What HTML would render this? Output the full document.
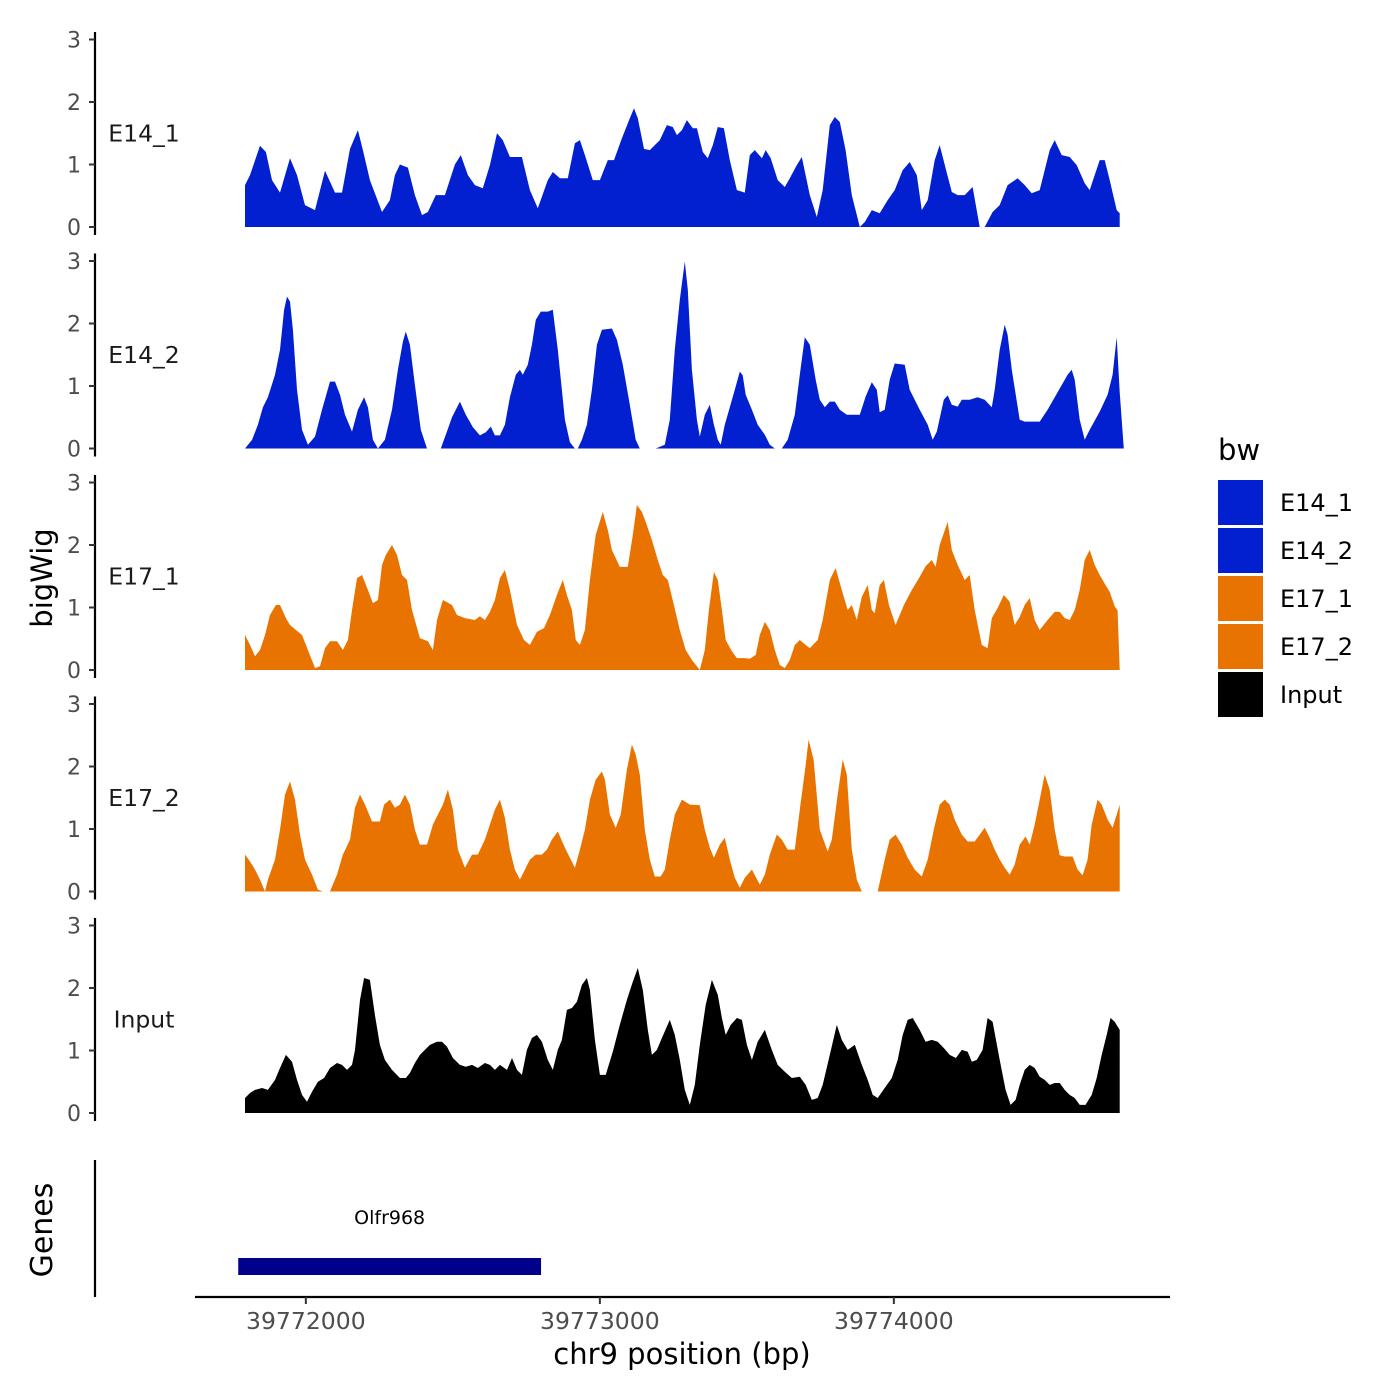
<!DOCTYPE html>
<html><head><meta charset="utf-8"><style>
html,body{margin:0;padding:0;background:#fff;}
svg{display:block;font-family:"DejaVu Sans","Liberation Sans",sans-serif;}
</style></head><body>
<svg id="chart" width="1400" height="1400" viewBox="0 0 1400 1400" xmlns="http://www.w3.org/2000/svg">
<rect x="0" y="0" width="1400" height="1400" fill="#fff"/>
<g id="tracks"></g>
<text x="0" y="0" transform="translate(52,578) rotate(-90)" text-anchor="middle" font-size="29" fill="#000">bigWig</text>
<line x1="95" y1="1160" x2="95" y2="1297" stroke="#000" stroke-width="2.2"/>
<text x="0" y="0" transform="translate(52,1230) rotate(-90)" text-anchor="middle" font-size="30" fill="#000">Genes</text>
<g id="genes"></g>
<line x1="195" y1="1297" x2="1170" y2="1297" stroke="#000" stroke-width="2.2"/>
<g id="xticks"></g>
<text x="682" y="1364" text-anchor="middle" font-size="29" fill="#000">chr9 position (bp)</text>
<g>
<text x="1218" y="460" font-size="29" fill="#000">bw</text>
<g id="legend-items"></g>
</g>
</svg>
<script>
const START = 39771793;
const trackNames = ["E14_1","E14_2","E17_1","E17_2","Input"];
const trackColors = ["#0220D0","#0220D0","#E87300","#E87300","#000000"];
const yTicks = [0,1,2,3];
const xTicks = [39772000,39773000,39774000];
const xTickLabels = ["39772000","39773000","39774000"];
const geneNames = ["Olfr968"];
const geneStarts = [39771770];
const geneEnds = [39772800];

const e14_1_pos = [0,17,51,71,92,119,153,177,204,238,272,306,330,357,384,401,425,466,493,510,527,554,578,602,622,649,680,714,734,758,782,809,833,857,877,901,942,969,996,1030,1047,1071,1098,1122,1139,1156,1183,1207,1234,1255,1282,1309,1323,1336,1357,1377,1411,1435,1455,1469,1486,1503,1523,1537,1557,1574,1591,1608,1629,1649,1673,1700,1717,1734,1758,1771,1788,1812,1836,1853,1877,1894,1921,1945,1965,1989,2006,2023,2043,2064,2091,2108,2132,2159,2186,2210,2237,2261,2285,2302,2322,2346,2363,2383,2404,2424,2448,2475,2499,2516,2543,2567,2594,2628,2652,2676,2703,2720,2737,2754,2778,2805,2829,2856,2873,2890,2907,2924,2941,2965,2975];
const e14_1_val = [0.67,0.83,1.3,1.2,0.75,0.55,1.1,0.83,0.35,0.27,0.9,0.55,0.55,1.25,1.55,1.23,0.75,0.24,0.43,0.83,1.0,0.95,0.51,0.19,0.24,0.51,0.51,1.0,1.15,0.83,0.67,0.62,0.99,1.5,1.39,1.12,1.12,0.59,0.3,0.75,0.88,0.78,0.78,1.34,1.39,1.15,0.75,0.75,1.07,1.07,1.42,1.74,1.9,1.74,1.25,1.23,1.39,1.63,1.6,1.47,1.55,1.71,1.58,1.58,1.2,1.1,1.31,1.6,1.58,1.07,0.59,0.55,1.15,1.23,1.1,1.23,1.1,0.75,0.64,0.78,0.99,1.12,0.51,0.16,0.59,1.63,1.76,1.68,1.23,0.51,0,0.08,0.27,0.22,0.43,0.59,0.91,1.04,0.83,0.27,0.43,1.07,1.31,0.94,0.56,0.51,0.51,0.64,0,0,0.24,0.35,0.67,0.78,0.67,0.54,0.59,0.91,1.23,1.39,1.15,1.12,0.99,0.7,0.59,0.83,1.07,1.07,0.75,0.27,0.22];

const e14_2_pos = [0,24,44,61,78,102,119,133,143,153,163,177,194,214,238,262,289,306,323,340,364,384,405,418,435,452,476,500,520,537,547,561,578,598,619,632,666,683,704,731,751,775,799,819,836,850,867,884,901,921,935,945,962,976,989,1006,1030,1047,1064,1088,1105,1122,1132,1146,1163,1180,1197,1214,1248,1265,1285,1309,1329,1343,1397,1428,1445,1462,1479,1496,1506,1520,1537,1547,1564,1581,1595,1608,1618,1632,1649,1666,1683,1693,1703,1724,1744,1768,1785,1802,1826,1846,1870,1887,1904,1921,1941,1955,1972,1989,2006,2023,2047,2091,2111,2132,2149,2159,2176,2193,2210,2244,2261,2278,2295,2322,2339,2353,2377,2390,2404,2424,2438,2465,2492,2516,2540,2550,2567,2584,2594,2608,2635,2652,2703,2730,2764,2798,2812,2822,2839,2856,2873,2907,2934,2951,2965,2975,2989];
const e14_2_val = [0,0.14,0.38,0.66,0.82,1.18,1.58,2.22,2.43,2.35,1.9,0.94,0.3,0.06,0.19,0.62,1.07,1.07,0.86,0.54,0.27,0.62,0.82,0.66,0.14,0,0.14,0.62,1.26,1.71,1.87,1.66,1.02,0.3,0,0,0,0.22,0.5,0.75,0.54,0.34,0.21,0.26,0.35,0.21,0.21,0.38,0.82,1.18,1.26,1.18,1.34,1.66,2.06,2.19,2.19,2.22,1.58,0.46,0.1,0,0,0.14,0.38,0.94,1.66,1.9,1.92,1.74,1.34,0.7,0.14,0,0,0.06,0.46,1.58,2.38,2.99,2.54,1.26,0.46,0.19,0.54,0.7,0.38,0.14,0.06,0.38,0.66,0.94,1.23,1.17,0.86,0.62,0.38,0.22,0.06,0,0,0.14,0.54,1.18,1.78,1.66,1.1,0.78,0.66,0.75,0.75,0.62,0.54,0.54,0.83,1.06,0.94,0.58,0.62,1.1,1.36,1.34,0.94,0.78,0.62,0.38,0.14,0.27,0.78,0.85,0.7,0.67,0.78,0.78,0.82,0.78,0.66,0.94,1.58,1.98,1.82,1.26,0.46,0.43,0.43,0.62,0.9,1.18,1.26,1.1,0.46,0.14,0.3,0.59,0.86,1.18,1.78,0.9,0];

const e17_1_pos = [0,17,34,51,68,85,105,119,139,153,173,194,214,238,255,272,289,313,333,350,364,381,398,418,435,452,466,479,500,517,534,551,568,595,622,639,653,673,704,721,748,782,799,816,833,850,867,884,901,925,949,969,993,1017,1037,1061,1081,1095,1112,1125,1139,1156,1173,1193,1217,1234,1248,1275,1302,1319,1333,1350,1363,1384,1404,1421,1438,1459,1479,1499,1520,1547,1564,1578,1595,1608,1622,1635,1656,1673,1700,1717,1737,1751,1768,1785,1802,1819,1836,1853,1870,1887,1907,1921,1948,1965,1989,2009,2030,2050,2064,2081,2098,2118,2132,2142,2159,2173,2190,2213,2241,2268,2295,2315,2336,2349,2363,2390,2404,2424,2448,2465,2482,2506,2526,2540,2560,2581,2601,2618,2635,2652,2669,2686,2703,2730,2754,2771,2788,2805,2822,2839,2856,2873,2890,2907,2927,2941,2958,2968,2975];
const e17_1_val = [0.56,0.4,0.22,0.32,0.56,0.88,1.04,1.04,0.83,0.72,0.64,0.56,0.32,0.03,0.06,0.35,0.46,0.46,0.32,0.48,0.96,1.47,1.52,1.28,1.07,1.12,1.68,1.84,2.0,1.84,1.52,1.44,0.96,0.51,0.46,0.32,0.8,1.12,1.04,0.88,0.83,0.8,0.86,0.8,0.93,1.12,1.47,1.6,1.28,0.72,0.48,0.4,0.61,0.67,0.88,1.2,1.44,1.2,0.96,0.48,0.4,0.64,1.44,2.16,2.53,2.24,1.92,1.65,1.65,2.16,2.64,2.53,2.37,2.08,1.76,1.52,1.44,1.04,0.64,0.32,0.16,0,0.32,0.96,1.57,1.44,0.96,0.48,0.3,0.19,0.19,0.18,0.24,0.56,0.77,0.64,0.32,0.08,0.03,0.16,0.4,0.48,0.4,0.35,0.48,0.8,1.44,1.63,1.28,0.96,1.04,0.8,1.17,1.36,0.96,0.91,1.36,1.44,1.04,0.72,1.04,1.28,1.49,1.66,1.76,1.65,2.0,2.37,1.92,1.68,1.44,1.52,0.96,0.4,0.35,0.83,0.99,1.2,1.09,0.72,0.85,1.04,1.15,0.8,0.64,0.8,0.93,0.93,0.83,0.8,0.96,1.28,1.76,1.92,1.68,1.52,1.36,1.25,1.02,0.95,0];

const e17_2_pos = [0,17,34,51,68,78,102,119,136,153,170,187,204,228,248,265,289,313,333,357,374,391,408,432,459,473,493,510,527,544,561,578,595,619,639,656,673,690,707,724,748,772,792,816,833,850,867,884,901,918,935,952,969,989,1010,1027,1044,1064,1088,1122,1139,1156,1173,1193,1214,1224,1241,1261,1278,1299,1316,1329,1343,1360,1377,1394,1414,1428,1445,1462,1486,1513,1547,1564,1581,1595,1615,1632,1649,1666,1683,1700,1724,1751,1768,1785,1809,1826,1846,1870,1887,1907,1917,1934,1955,1982,1996,2016,2033,2047,2064,2081,2098,2152,2176,2193,2213,2234,2254,2278,2302,2322,2343,2363,2380,2397,2414,2438,2458,2482,2499,2516,2533,2550,2567,2584,2601,2618,2635,2655,2669,2686,2703,2720,2737,2754,2771,2788,2815,2832,2849,2866,2880,2900,2914,2934,2951,2965,2975];
const e17_2_val = [0.59,0.48,0.35,0.19,0,0.19,0.51,0.99,1.55,1.76,1.47,0.91,0.51,0.27,0.03,0,0,0.27,0.59,0.83,1.34,1.55,1.39,1.12,1.12,1.39,1.47,1.34,1.39,1.55,1.39,0.99,0.75,0.75,1.07,1.23,1.39,1.63,1.31,0.67,0.38,0.59,0.59,0.83,1.07,1.31,1.47,1.18,0.67,0.35,0.19,0.35,0.51,0.59,0.59,0.67,0.83,0.96,0.7,0.38,0.67,0.99,1.47,1.79,1.92,1.79,1.23,1.02,1.23,1.95,2.35,2.19,1.87,0.99,0.51,0.24,0.24,0.35,0.83,1.23,1.47,1.39,1.38,0.99,0.7,0.54,0.75,0.86,0.51,0.22,0.06,0.22,0.35,0.11,0.27,0.59,0.91,0.83,0.67,0.67,1.31,2.03,2.43,2.11,0.99,0.64,0.83,1.55,2.11,1.87,0.67,0.19,0,0,0.51,0.83,0.91,0.75,0.54,0.35,0.24,0.51,0.99,1.39,1.47,1.39,1.15,0.91,0.8,0.8,0.91,1.02,0.86,0.67,0.51,0.38,0.27,0.43,0.75,0.88,0.75,1.07,1.47,1.87,1.63,0.99,0.58,0.56,0.56,0.35,0.26,0.51,1.07,1.47,1.39,1.15,1.02,1.23,1.39];

const input_pos = [0,17,34,58,78,102,119,139,160,177,194,211,228,248,269,289,313,330,347,364,374,391,405,425,442,459,476,500,527,547,561,578,595,612,629,653,670,687,707,731,751,772,792,816,833,850,867,891,908,925,942,959,976,993,1010,1030,1047,1064,1078,1095,1112,1129,1146,1163,1173,1190,1207,1227,1251,1275,1299,1319,1336,1353,1370,1384,1401,1418,1445,1462,1479,1496,1513,1530,1547,1567,1588,1608,1622,1635,1652,1673,1690,1707,1724,1744,1768,1792,1812,1836,1860,1887,1907,1928,1948,1965,1989,2013,2030,2050,2074,2098,2118,2135,2152,2176,2200,2220,2237,2254,2271,2295,2315,2336,2356,2377,2397,2418,2438,2458,2472,2489,2509,2526,2543,2567,2587,2604,2621,2635,2652,2669,2686,2703,2720,2737,2754,2771,2788,2805,2822,2839,2859,2880,2897,2914,2931,2944,2958,2975];
const input_val = [0.24,0.32,0.37,0.4,0.37,0.53,0.72,0.93,0.82,0.53,0.29,0.18,0.34,0.5,0.56,0.72,0.8,0.77,0.69,0.77,1.01,1.81,2.16,2.13,1.57,1.09,0.85,0.69,0.56,0.56,0.64,0.8,0.93,1.01,1.09,1.14,1.14,1.06,0.88,0.77,0.74,0.77,0.72,0.8,0.77,0.69,0.77,0.69,0.88,0.69,0.61,1.01,1.2,1.25,1.14,0.85,0.69,1.01,1.17,1.65,1.68,1.78,2.05,2.16,1.97,1.17,0.61,0.61,0.98,1.41,1.81,2.1,2.32,1.97,1.33,0.93,1.01,1.2,1.49,1.25,0.85,0.37,0.13,0.45,1.09,1.73,2.13,1.89,1.52,1.25,1.41,1.52,1.49,1.09,0.85,1.14,1.33,1.01,0.77,0.66,0.56,0.58,0.45,0.21,0.24,0.45,0.93,1.41,1.17,1.01,1.09,0.77,0.53,0.29,0.24,0.4,0.56,0.85,1.25,1.49,1.52,1.33,1.14,1.17,1.14,1.04,0.93,0.88,1.01,0.98,0.82,0.85,1.01,1.52,1.46,0.85,0.37,0.13,0.21,0.45,0.69,0.77,0.72,0.58,0.53,0.45,0.48,0.48,0.37,0.29,0.24,0.13,0.13,0.29,0.56,0.93,1.25,1.52,1.46,1.33];

const trackPos = [e14_1_pos,e14_2_pos,e17_1_pos,e17_2_pos,input_pos];
const trackVal = [e14_1_val,e14_2_val,e17_1_val,e17_2_val,input_val];

const NS = "http://www.w3.org/2000/svg";
function xScale(bp){ return 245 + (bp - START) * 0.294; }
function trackBase(i){ return 227 + i * 221.5; }
function yScale(i, v){ return trackBase(i) - v * 62.5; }
function mk(tag, attrs, parent){ const e=document.createElementNS(NS,tag); for(const k in attrs) e.setAttribute(k,attrs[k]); parent.appendChild(e); return e; }

const tracksG = document.getElementById('tracks');
for (let i=0;i<trackNames.length;i++){
  const g = mk('g',{},tracksG);
  
  
  const base = trackBase(i);
  const ax = mk('line',{x1:95,y1:base-195,x2:95,y2:base+8,stroke:'#000','stroke-width':2.2},g);
  
  
  for (const t of yTicks){
    const y = yScale(i,t);
    const tk = mk('line',{x1:89,y1:y,x2:95,y2:y,stroke:'#333','stroke-width':2},g);
    
    
    const tl = mk('text',{x:81,y:y+8,'text-anchor':'end','font-size':22,fill:'#4d4d4d'},g);
    tl.textContent = String(t);
    
    
  }
  const lab = mk('text',{x:144,y:yScale(i,1.5)+8,'text-anchor':'middle','font-size':23.5,fill:'#1a1a1a'},g);
  lab.textContent = trackNames[i];
  
  
  const pos = trackPos[i], val = trackVal[i];
  let d = 'M' + xScale(START+pos[0]).toFixed(1) + ',' + base;
  for (let k=0;k<pos.length;k++) d += 'L' + xScale(START+pos[k]).toFixed(1) + ',' + yScale(i,val[k]).toFixed(1);
  d += 'L' + xScale(START+pos[pos.length-1]).toFixed(1) + ',' + base + 'Z';
  const area = mk('path',{d:d,fill:trackColors[i]},g);
  
  
}

const genesG = document.getElementById('genes');
for (let k=0;k<geneNames.length;k++){
  const x1 = xScale(geneStarts[k]), x2 = xScale(geneEnds[k]);
  const bar = mk('rect',{x:x1,y:1258,width:x2-x1,height:17,fill:'#00008B'},genesG);
  
  
  const gl = mk('text',{x:(x1+x2)/2,y:1224,'text-anchor':'middle','font-size':19,fill:'#000'},genesG);
  gl.textContent = geneNames[k];
  
  
}

const xt = document.getElementById('xticks');
for (let k=0;k<xTicks.length;k++){
  const x = xScale(xTicks[k]);
  const tk = mk('line',{x1:x,y1:1297,x2:x,y2:1304,stroke:'#333','stroke-width':2},xt);
  
  
  const tl = mk('text',{x:x,y:1329,'text-anchor':'middle','font-size':23.5,fill:'#4d4d4d'},xt);
  tl.textContent = xTickLabels[k];
  
  
}

const leg = document.getElementById('legend-items');
const legTops = [480,528,576,624,672];
for (let k=0;k<trackNames.length;k++){
  const g = mk('g',{},leg);
  
  
  mk('rect',{x:1218,y:legTops[k],width:45,height:45,fill:trackColors[k]},g);
  const t = mk('text',{x:1280,y:legTops[k]+31,'font-size':24,fill:'#000'},g);
  t.textContent = trackNames[k];
}
</script>
</body></html>
